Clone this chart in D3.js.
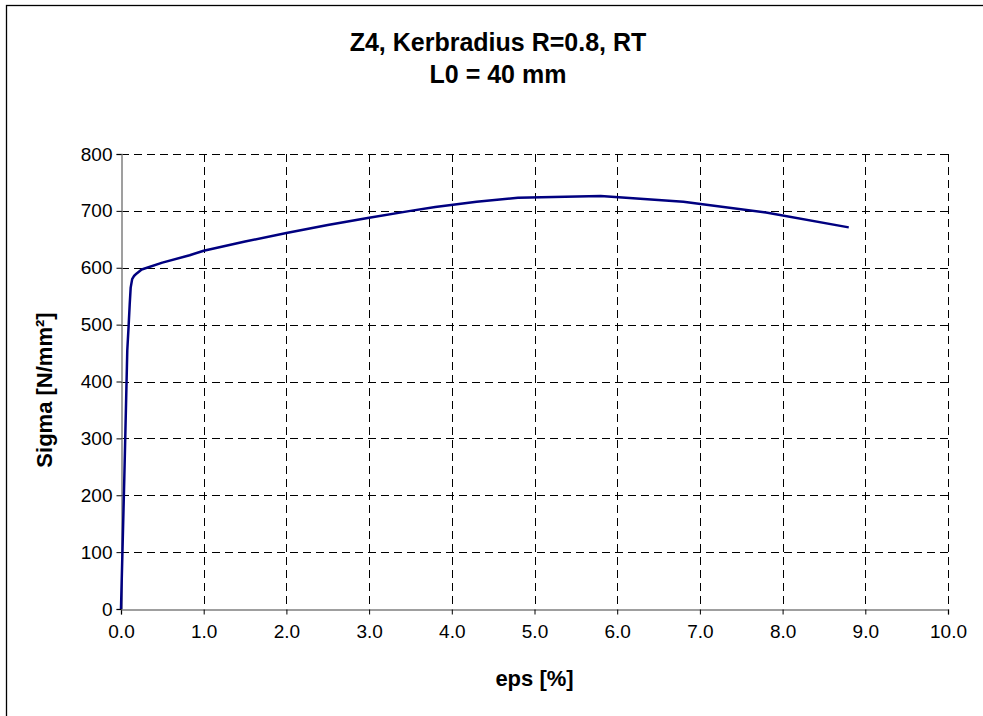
<!DOCTYPE html>
<html><head><meta charset="utf-8">
<script src="https://cdn.jsdelivr.net/npm/d3@7"></script>
<style>body{margin:0;background:#fff}svg{display:block}text{font-family:"Liberation Sans",Arial,sans-serif}</style>
</head><body>
<svg id="c" width="983" height="716"></svg>
<script>
const titleLines = ["Z4, Kerbradius R=0.8, RT", "L0 = 40 mm"];
const xLabel = "eps [%]";
const yLabel = "Sigma [N/mm²]";
const xTicks = [0,1,2,3,4,5,6,7,8,9,10];
const yTicks = [0,100,200,300,400,500,600,700,800];
const eps   = [0, 0.04, 0.076, 0.093, 0.105, 0.117, 0.135, 0.16, 0.19, 0.25, 0.5, 0.83, 1.0, 1.5, 2.0, 2.5, 3.0, 3.5, 3.8, 4.3, 4.8, 5.8, 6.8, 7.8, 8.8];
const sigma = [0, 230, 455, 500, 535, 565, 580, 586, 590, 597, 609, 622, 630, 646, 661, 675, 688, 700, 707, 716, 723, 726, 716, 697, 671];

const svg = d3.select("#c");
const L = 121, R = 948, T = 154, B = 609;
const x = d3.scaleLinear().domain([0,10]).range([L,R]);
const y = d3.scaleLinear().domain([0,800]).range([B,T]);

svg.append("rect").attr("x",6.5).attr("y",5.5).attr("width",1000).attr("height",1000)
  .attr("fill","none").attr("stroke","#000").attr("stroke-width",1.3);

// grid
const g = svg.append("g");
g.selectAll(".vg").data(xTicks.slice(1)).join("line")
  .attr("x1",d=>Math.round(x(d))+0.5).attr("x2",d=>Math.round(x(d))+0.5)
  .attr("y1",T).attr("y2",B).attr("stroke","#000").attr("stroke-dasharray","8,5");
g.selectAll(".hg").data(yTicks.slice(1)).join("line")
  .attr("y1",d=>Math.round(y(d))+0.5).attr("y2",d=>Math.round(y(d))+0.5)
  .attr("x1",L).attr("x2",R).attr("stroke","#000").attr("stroke-dasharray","8,5");

// axes
const xa = svg.append("g").attr("transform",`translate(0,${B+0.5})`)
  .call(d3.axisBottom(x).tickValues(xTicks).tickFormat(d3.format(".1f")).tickSize(5).tickPadding(10));
const ya = svg.append("g").attr("transform",`translate(${L+0.5},0)`)
  .call(d3.axisLeft(y).tickValues(yTicks).tickSize(5).tickPadding(4));
[xa,ya].forEach(a=>{
  a.select(".domain").attr("stroke","#808080").attr("stroke-width",1.5);
  a.selectAll(".tick line").attr("stroke","#000");
  a.selectAll(".tick text").attr("fill","#000").style("font-size","19px").style("font-family","'Liberation Sans',Arial,sans-serif");
});

// curve
svg.append("path").datum(eps.map((e,i)=>[e,sigma[i]]))
  .attr("d",d3.line().x(d=>x(d[0])).y(d=>y(d[1])))
  .attr("fill","none").attr("stroke","#000080").attr("stroke-width",2.5).attr("stroke-linejoin","round");

// titles
svg.selectAll(".title").data(titleLines).join("text")
  .attr("x",498).attr("y",(d,i)=>51+i*32).attr("text-anchor","middle")
  .style("font-size","25px").style("font-weight","bold").text(d=>d);
svg.append("text").attr("x",(L+R)/2).attr("y",686).attr("text-anchor","middle")
  .style("font-size","22px").style("font-weight","bold").text(xLabel);
svg.append("text").attr("transform",`translate(52,390) rotate(-90)`).attr("text-anchor","middle")
  .style("font-size","22px").style("font-weight","bold").text(yLabel);
</script>
</body></html>
